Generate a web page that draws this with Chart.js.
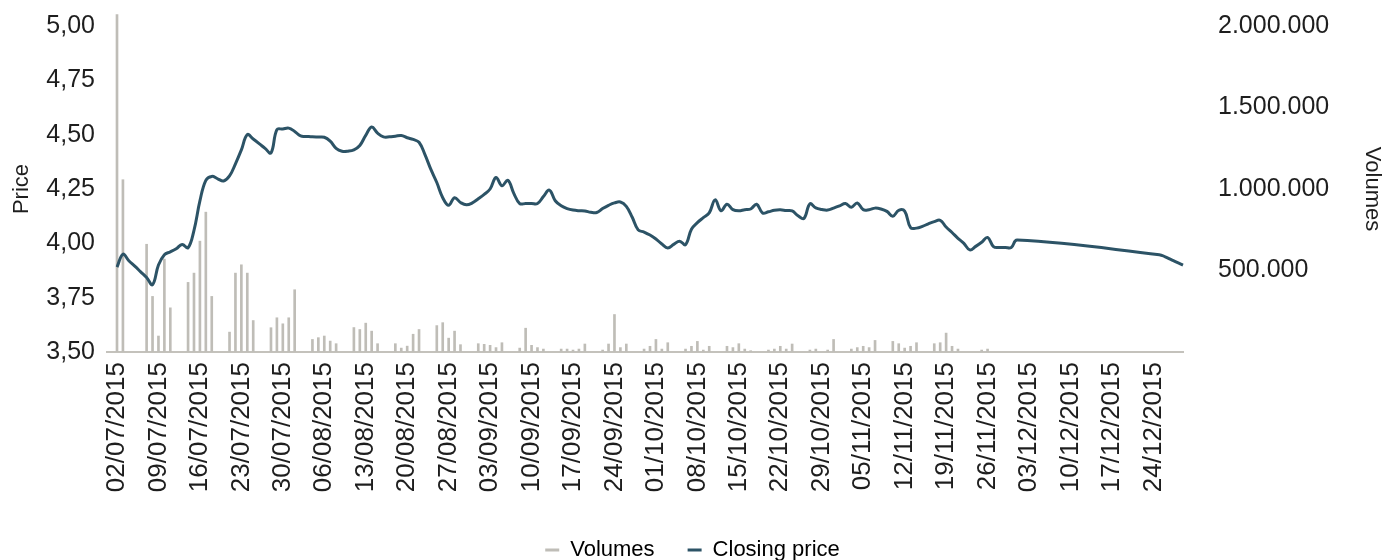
<!DOCTYPE html>
<html lang="en">
<head>
    <meta charset="UTF-8">
    <title>Closing price and volumes</title>
    <script src="https://cdn.jsdelivr.net/npm/chart.js"></script>
    <style>
        body {
            margin: 0;
            padding: 0;
            background-color: #fff;
        }

        .chart-container {
            width: 1385px;
            height: 560px;
        }
    </style>
</head>
<body>
    <div class="chart-container">
        <canvas id="priceChart" width="1385" height="560"></canvas>
    </div>

    <script>
        // one row per week, first day of the axis is 02/07/2015
        const firstDay = [2015, 6, 2];

        const closingPrice = [
            3.89, 3.95, 3.92, 3.895, 3.869, 3.843, 3.81,
            3.90, 3.948, 3.961, 3.975, 3.995, 3.98, 4.06,
            4.195, 4.29, 4.308, 4.297, 4.287, 4.31, 4.366,
            4.43, 4.50, 4.48, 4.459, 4.437, 4.416, 4.523,
            4.526, 4.53, 4.515, 4.494, 4.492, 4.49, 4.489,
            4.488, 4.47, 4.437, 4.424, 4.424, 4.43, 4.45,
            4.497, 4.535, 4.507, 4.49, 4.49, 4.493, 4.496,
            4.486, 4.478, 4.465, 4.408, 4.34, 4.28, 4.21,
            4.175, 4.21, 4.188, 4.177, 4.186, 4.205, 4.225,
            4.25, 4.303, 4.265, 4.29, 4.23, 4.183, 4.183,
            4.183, 4.183, 4.215, 4.245, 4.196, 4.173, 4.16,
            4.153, 4.15, 4.149, 4.143, 4.142, 4.16, 4.175,
            4.186, 4.19, 4.17, 4.12, 4.062, 4.052, 4.038,
            4.02, 3.997, 3.979, 3.995, 4.01, 3.994, 4.065,
            4.095, 4.118, 4.14, 4.20, 4.15, 4.18, 4.155,
            4.15, 4.155, 4.158, 4.18, 4.14, 4.145, 4.152,
            4.154, 4.151, 4.149, 4.127, 4.115, 4.182, 4.163,
            4.156, 4.153, 4.162, 4.172, 4.183, 4.166, 4.186,
            4.155, 4.155, 4.162, 4.158, 4.147, 4.125, 4.152,
            4.148, 4.072, 4.07, 4.078, 4.09, 4.10, 4.106,
            4.075, 4.05, 4.023, 4.00, 3.97, 3.986, 4.005,
            4.027, 3.985, 3.981, 3.981, 3.981, 4.015, null,
            null, null, null, null, null, null, null,
            null, null, null, null, null, null, null,
            null, null, null, null, null, null, null,
            null, 3.948, 3.938, 3.925, 3.912, 3.90
        ];

        const volumes = [
            2070000, 1057000, null, null, null, 661000, 341000,
            98000, 570000, 271000, null, null, 427000, 484000,
            680000, 858000, 341000, null, null, 122000, 484000,
            535000, 484000, 193000, null, null, 149000, 210000,
            173000, 210000, 382000, null, null, 77000, 88000,
            98000, 67000, 51000, null, null, 150000, 138000,
            177000, 128000, 51000, null, null, 51000, 24000,
            36000, 109000, 138000, null, null, 162000, 180000,
            85000, 128000, 45000, null, null, 51000, 47000,
            41000, 27000, 57000, null, null, 24000, 146000,
            41000, 27000, 18000, null, null, 18000, 18000,
            12000, 18000, 49000, null, null, 12000, 49000,
            230000, 27000, 49000, null, null, 18000, 35000,
            77000, 18000, 57000, null, null, 18000, 35000,
            65000, 12000, 35000, null, null, 35000, 27000,
            51000, 18000, 8000, null, null, 12000, 18000,
            35000, 18000, 49000, null, null, 12000, 18000,
            null, 12000, 77000, null, null, 18000, 27000,
            35000, 27000, 71000, null, null, 65000, 51000,
            24000, 35000, 57000, null, null, 51000, 57000,
            116000, 35000, 18000, null, null, null, 12000,
            18000, null, null, null, null, null, null,
            null, null, null, null, null, null, null,
            null, null, null, null, null, null, null,
            null, null, null, null, null, null, null,
            null, null, null, null, null, null
        ];

        const priceTicks = [3.5, 3.75, 4.0, 4.25, 4.5, 4.75, 5.0];
        const volumeTicks = [0, 500000, 1000000, 1500000, 2000000];
        const labelEvery = 7;

        // calendar day labels dd/mm/yyyy
        const days = closingPrice.map((_, i) => {
            const d = new Date(Date.UTC(firstDay[0], firstDay[1], firstDay[2] + i));
            const dd = String(d.getUTCDate()).padStart(2, '0');
            const mm = String(d.getUTCMonth() + 1).padStart(2, '0');
            return `${dd}/${mm}/${d.getUTCFullYear()}`;
        });

        const lineColor = '#2C5366';
        const barColor = '#BFBDB7';
        const axisColor = '#C4C2BC';
        const textColor = '#1E1E1E';
        const clear = 'rgba(0,0,0,0)';

        Chart.defaults.font.family = '"Liberation Sans", Arial, sans-serif';
        Chart.defaults.color = textColor;

        const ctx = document.getElementById('priceChart').getContext('2d');
        const priceChart = new Chart(ctx, {
            type: 'bar',
            data: {
                labels: days,
                datasets: [
                    {
                        type: 'bar',
                        label: 'Volumes',
                        data: volumes,
                        yAxisID: 'vol',
                        backgroundColor: barColor,
                        barThickness: 2,
                        clip: false,
                        order: 1
                    },
                    {
                        type: 'line',
                        label: 'Closing price',
                        data: closingPrice,
                        yAxisID: 'price',
                        borderColor: lineColor,
                        borderWidth: 3,
                        pointRadius: 0,
                        tension: 0.4,
                        spanGaps: true,
                        order: 0
                    }
                ]
            },
            options: {
                responsive: false,
                animation: false,
                layout: {
                    padding: { top: 24, left: 0, right: 0, bottom: -11 }
                },
                plugins: {
                    tooltip: { enabled: false },
                    legend: {
                        position: 'bottom',
                        labels: {
                            usePointStyle: true,
                            pointStyleWidth: 14,
                            padding: 33,
                            font: { size: 22 },
                            color: textColor,
                            sort: (a, b) => a.datasetIndex - b.datasetIndex,
                            generateLabels: chart => chart.data.datasets.map((ds, i) => ({
                                text: ds.label,
                                fillStyle: i === 0 ? barColor : lineColor,
                                strokeStyle: i === 0 ? barColor : lineColor,
                                lineWidth: 3,
                                pointStyle: 'line',
                                hidden: false,
                                datasetIndex: i
                            }))
                        }
                    }
                },
                scales: {
                    x: {
                        offset: false,
                        grid: {
                            display: true,
                            drawOnChartArea: false,
                            drawTicks: true,
                            tickLength: 8,
                            lineWidth: 2,
                            color: c => c.index === 0 ? axisColor : clear
                        },
                        border: { display: true, color: axisColor, width: 2 },
                        afterBuildTicks: scale => {
                            scale.ticks = scale.ticks.filter(t => t.value % labelEvery === 0);
                        },
                        afterFit: scale => { scale.height = 154; },
                        ticks: {
                            autoSkip: false,
                            minRotation: 90,
                            maxRotation: 90,
                            padding: 2,
                            font: { size: 26 }
                        }
                    },
                    price: {
                        position: 'left',
                        min: 3.5,
                        max: 5,
                        grid: {
                            display: true,
                            drawOnChartArea: false,
                            drawTicks: true,
                            tickLength: 11,
                            lineWidth: 2,
                            color: c => c.tick && c.tick.value === 3.5 ? axisColor : clear
                        },
                        border: { display: true, color: axisColor, width: 2 },
                        afterFit: scale => { scale.width = 117; },
                        afterBuildTicks: scale => {
                            scale.ticks = priceTicks.map(v => ({ value: v }));
                        },
                        title: {
                            display: true,
                            text: 'Price',
                            font: { size: 22 },
                            padding: { top: 9, bottom: 0 }
                        },
                        ticks: {
                            padding: 11,
                            font: { size: 25 },
                            callback: v => v.toFixed(2).replace('.', ',')
                        }
                    },
                    vol: {
                        position: 'right',
                        min: 0,
                        max: 2000000,
                        // invisible tick marks keep the labels away from the plot
                        grid: {
                            display: true,
                            drawOnChartArea: false,
                            drawTicks: true,
                            tickLength: 33,
                            color: clear
                        },
                        border: { display: false },
                        afterFit: scale => { scale.width = 202; },
                        afterBuildTicks: scale => {
                            scale.ticks = volumeTicks.map(v => ({ value: v }));
                        },
                        title: {
                            display: true,
                            text: 'Volumes',
                            font: { size: 22 },
                            padding: { top: 0, bottom: 0 }
                        },
                        ticks: {
                            padding: 2,
                            font: { size: 25 },
                            callback: v => v === 0 ? '' : v.toString().replace(/\B(?=(\d{3})+(?!\d))/g, '.')
                        }
                    }
                }
            }
        });
    </script>
</body>
</html>
